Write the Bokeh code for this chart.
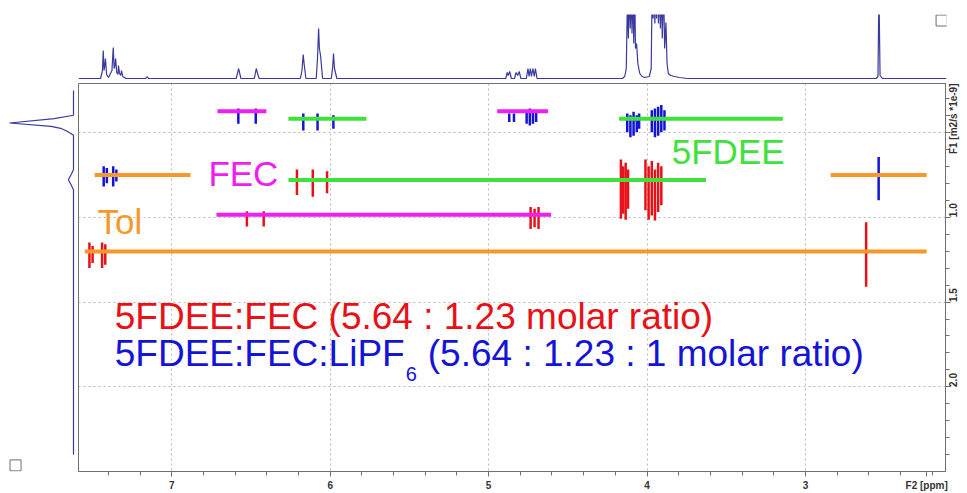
import math
from bokeh.plotting import figure
from bokeh.models import Range1d, FixedTicker
from bokeh.layouts import column, row
from bokeh.core.properties import value
from bokeh.embed import file_html
from bokeh.resources import INLINE

# ---------------- axes / ticks ----------------
x_ticks = [7, 6, 5, 4, 3]
x_tick_labels = ["7", "6", "5", "4", "3"]
x_minor = [7.4, 7.2, 6.8, 6.6, 6.4, 6.2, 5.8, 5.6, 5.4, 5.2, 4.8, 4.6, 4.4, 4.2,
           3.8, 3.6, 3.4, 3.2, 2.8, 2.6, 2.4, 2.2]
x_title = "F2 [ppm]"
x_title_at = 2.235
y_ticks = [0.5, 1.0, 1.5, 2.0]
y_tick_labels = ["", "1.0", "1.5", "2.0"]
y_minor = [0.3, 0.6, 0.7, 0.8, 0.9, 1.1, 1.2, 1.3, 1.4, 1.6, 1.7, 1.8, 1.9,
           2.1, 2.2, 2.3, 2.4]
y_title = "F1 [m2/s *1e-9]"
y_title_at = 0.4

# ---------------- 1D projection (top, F2) ----------------
top_ppm = [7.589, 7.45, 7.438, 7.433, 7.428, 7.424, 7.419, 7.412, 7.40, 7.378, 7.370,
           7.364, 7.358, 7.355, 7.348, 7.340, 7.337, 7.330, 7.322, 7.318, 7.31, 7.29,
           7.165, 7.156, 7.148,
           6.595, 6.585, 6.580, 6.575, 6.565, 6.48, 6.472, 6.467, 6.462, 6.45,
           6.19, 6.18, 6.172, 6.166, 6.155, 6.09, 6.082, 6.075, 6.07, 6.062, 6.05,
           5.995, 5.986, 5.981, 5.975, 5.96,
           4.895, 4.886, 4.880, 4.870, 4.86, 4.84, 4.83, 4.82, 4.81, 4.80,
           4.765, 4.755, 4.748, 4.74, 4.733, 4.724, 4.715, 4.708, 4.698,
           4.16, 4.145, 4.135, 4.128, 4.122, 4.115, 4.11, 4.104, 4.099, 4.093, 4.088,
           4.082, 4.077, 4.070, 4.062, 4.05, 4.035, 4.02, 3.99,
           3.978, 3.972, 3.966, 3.960, 3.955, 3.949, 3.944, 3.937, 3.932, 3.925,
           3.920, 3.913, 3.908, 3.900, 3.893, 3.885, 3.878, 3.87, 3.855, 3.83, 3.80,
           3.75, 2.56, 2.548, 2.542, 2.535, 2.52, 2.116]
top_int = [0, 0, 8, 28, 8, 12, 20, 4, 1, 8, 31,
           10, 14, 20, 6, 4, 13, 5, 3, 8, 2, 0,
           0, 2, 0,
           0, 6, 10, 7, 0, 0, 7, 10, 6, 0,
           0, 8, 24, 14, 0, 0, 20, 50, 30, 22, 0,
           0, 12, 25, 10, 0,
           0, 6, 3, 7, 0, 0, 6, 3, 7, 0,
           0, 10, 2, 10, 2, 10, 2, 10, 0,
           0, 2, 10, 80, 40, 90, 50, 90, 45, 90, 35,
           90, 30, 35, 15, 5, 2, 1, 2,
           10, 90, 60, 90, 55, 90, 60, 90, 55, 90,
           50, 90, 40, 90, 30, 56, 15, 5, 3, 2, 1,
           0, 0, 2, 90, 3, 0, 0]

# ---------------- 1D projection (left, F1) ----------------
left_D = [0.254, 0.40, 0.42, 0.4455, 0.465, 0.477, 0.494, 0.518, 0.72, 0.745,
          0.78, 0.815, 0.84, 2.40]
left_int = [0, 0, 0.3, 1.0, 0.35, 0.2, 0.1, 0, 0, 0.03, 0.08, 0.03, 0, 0]

# ---------------- DOSY cross peaks ----------------
# without salt (red)
red_ppm = [7.52, 7.50, 7.44, 7.42, 2.617, 6.526, 6.42, 4.735, 4.71, 4.685,
           6.21, 6.11, 6.02, 4.165, 4.15, 4.135, 4.12, 4.01, 3.99, 3.97, 3.95, 3.93, 3.91]
red_lo = [1.15, 1.17, 1.15, 1.16, 1.03, 0.965, 0.965, 0.94, 0.95, 0.94,
          0.72, 0.72, 0.73, 0.66, 0.70, 0.68, 0.72, 0.66, 0.70, 0.67, 0.72, 0.68, 0.70]
red_hi = [1.30, 1.27, 1.30, 1.28, 1.41, 1.055, 1.055, 1.07, 1.06, 1.07,
          0.87, 0.88, 0.86, 1.01, 0.98, 1.015, 0.95, 0.96, 1.015, 0.99, 1.02, 0.97, 0.93]
# with LiPF6 (blue)
blue_ppm = [7.43, 7.41, 7.37, 7.35, 2.538, 6.58, 6.47, 4.87, 4.84, 4.76, 4.74, 4.72, 4.70,
            6.17, 6.08, 5.98, 4.125, 4.105, 4.085, 4.065, 4.05, 3.97, 3.95, 3.93, 3.91, 3.89]
blue_lo = [0.70, 0.71, 0.70, 0.72, 0.646, 0.36, 0.36, 0.39, 0.39, 0.37, 0.36, 0.37, 0.38,
           0.39, 0.39, 0.40, 0.39, 0.40, 0.38, 0.40, 0.39, 0.37, 0.36, 0.35, 0.34, 0.37]
blue_hi = [0.82, 0.80, 0.82, 0.79, 0.90, 0.45, 0.45, 0.44, 0.44, 0.45, 0.46, 0.45, 0.44,
           0.49, 0.49, 0.48, 0.50, 0.53, 0.52, 0.50, 0.48, 0.50, 0.53, 0.52, 0.50, 0.49]

# ---------------- diffusion marker lines ----------------
line_comp = ["FEC", "FEC", "5FDEE", "5FDEE", "Tol", "Tol", "5FDEE", "FEC", "Tol"]
line_D = [0.377, 0.377, 0.420, 0.420, 0.752, 0.752, 0.781, 0.986, 1.203]
line_from = [6.712, 4.946, 6.264, 4.177, 7.487, 2.841, 6.264, 6.718, 7.55]
line_to = [6.403, 4.625, 5.772, 3.143, 6.882, 2.235, 3.628, 4.606, 2.235]

label_text = ["FEC", "Tol", "5FDEE"]
label_ppm = [6.769, 7.469, 3.844]
label_D = [0.810, 1.092, 0.676]

legend_red = "5FDEE:FEC (5.64 : 1.23 molar ratio)"
legend_blue = ["5FDEE:FEC:LiPF", "6", "(5.64 : 1.23 : 1 molar ratio)"]
legend_ppm = 7.36
legend_D = [1.648, 1.865, 1.959]

# decorative corner squares (F2 ppm / intensity, F1 / intensity)
corner_top = (2.147, 58)
corner_left = (0.906, 2.462)

# ---------------- styles ----------------
comp_color = {"Tol": "#f6992a", "FEC": "#f01ef0", "5FDEE": "#3fe23a"}
RED = "#e61218"
BLUE = "#1414d6"
SPEC = "#3a3a9e"
FRAME = "#707070"
FONT = value("Liberation Sans")
BIG = 37
SUB = 20

xr = Range1d(7.589, 2.116)
yr = Range1d(2.498, 0.213)

# ---------------- main 2D plot ----------------
main = figure(width=889, height=410, x_range=xr, y_range=yr, output_backend="svg",
              toolbar_location=None, y_axis_location="right",
              min_border_left=0, min_border_right=21, min_border_top=0, min_border_bottom=20,
              outline_line_color=FRAME, background_fill_color="white")

ax = main.xaxis[0]
ax.ticker = FixedTicker(ticks=x_ticks + [x_title_at], minor_ticks=x_minor)
ovx = {float(t): l for t, l in zip(x_ticks, x_tick_labels)}
ovx[x_title_at] = x_title
ax.major_label_overrides = ovx
ay = main.yaxis[0]
ay.ticker = FixedTicker(ticks=[y_title_at] + y_ticks, minor_ticks=y_minor)
ovy = {float(t): l for t, l in zip(y_ticks, y_tick_labels)}
ovy[y_title_at] = y_title
ay.major_label_overrides = ovy
ay.major_label_orientation = math.pi / 2
for a in (ax, ay):
    a.axis_line_color = FRAME
    a.major_tick_line_color = FRAME
    a.minor_tick_line_color = FRAME
    a.major_tick_out = 5
    a.major_tick_in = 0
    a.minor_tick_out = 4
    a.minor_tick_in = 0
    a.major_label_text_font = "Liberation Sans"
    a.major_label_text_font_size = "10px"
    a.major_label_text_font_style = "bold"
    a.major_label_text_color = "#333333"
    a.major_label_standoff = 3

main.xgrid.ticker = FixedTicker(ticks=x_ticks)
main.ygrid.ticker = FixedTicker(ticks=y_ticks)
for g in (main.xgrid, main.ygrid):
    g.grid_line_color = "#b8b8b8"
    g.grid_line_dash = "2 3"
    g.grid_line_width = 1

main.segment(x0=red_ppm, y0=red_lo, x1=red_ppm, y1=red_hi, line_color=RED, line_width=2.5)
main.segment(x0=blue_ppm, y0=blue_lo, x1=blue_ppm, y1=blue_hi, line_color=BLUE, line_width=2.5)
main.segment(x0=line_from, y0=line_D, x1=line_to, y1=line_D,
             line_color=[comp_color[c] for c in line_comp], line_width=4)

main.text(x=label_ppm, y=label_D, text=label_text,
          text_color=[comp_color[c] for c in label_text], text_font=FONT,
          text_font_size="35px", text_baseline="alphabetic", text_align="left",
          y_offset=-11)

main.text(x=[legend_ppm], y=[legend_D[0]], text=[legend_red], text_color=RED,
          text_font=FONT, text_font_size=f"{BIG}px", text_baseline="alphabetic",
          y_offset=-11)
main.text(x=[legend_ppm], y=[legend_D[1]], text=[legend_blue[0]], text_color=BLUE,
          text_font=FONT, text_font_size=f"{BIG}px", text_baseline="alphabetic",
          y_offset=-11)
main.text(x=[legend_ppm], y=[legend_D[2]], text=[legend_blue[1]], text_color=BLUE,
          text_font=FONT, text_font_size=f"{SUB}px", text_baseline="alphabetic",
          x_offset=291, y_offset=-6)
main.text(x=[legend_ppm], y=[legend_D[1]], text=[legend_blue[2]], text_color=BLUE,
          text_font=FONT, text_font_size=f"{BIG}px", text_baseline="alphabetic",
          x_offset=313, y_offset=-11)

# ---------------- top projection ----------------
top = figure(width=967, height=83, x_range=xr, y_range=Range1d(-2, 64), output_backend="svg",
             toolbar_location=None, x_axis_location=None, y_axis_location=None,
             min_border_left=78, min_border_right=21, min_border_top=14, min_border_bottom=3,
             outline_line_color=None)
top.grid.visible = False
top.line(top_ppm, top_int, line_color=SPEC, line_width=1.2)
top.scatter([corner_top[0]], [corner_top[1]], marker="square", size=11,
            fill_color=None, line_color="#6a6a80", line_width=1)

# ---------------- left projection ----------------
left = figure(width=78, height=410, x_range=Range1d(73 / 64, -5 / 64), y_range=yr,
              output_backend="svg", toolbar_location=None,
              x_axis_location=None, y_axis_location=None,
              min_border_left=0, min_border_right=0, min_border_top=0, min_border_bottom=20,
              outline_line_color=None)
left.grid.visible = False
left.line(left_int, left_D, line_color=SPEC, line_width=1.2)
left.scatter([corner_left[0]], [corner_left[1]], marker="square", size=11,
             fill_color=None, line_color="#6a6a80", line_width=1)

layout = column(top, row(left, main))
open("out.html", "w").write(file_html(layout, INLINE))
